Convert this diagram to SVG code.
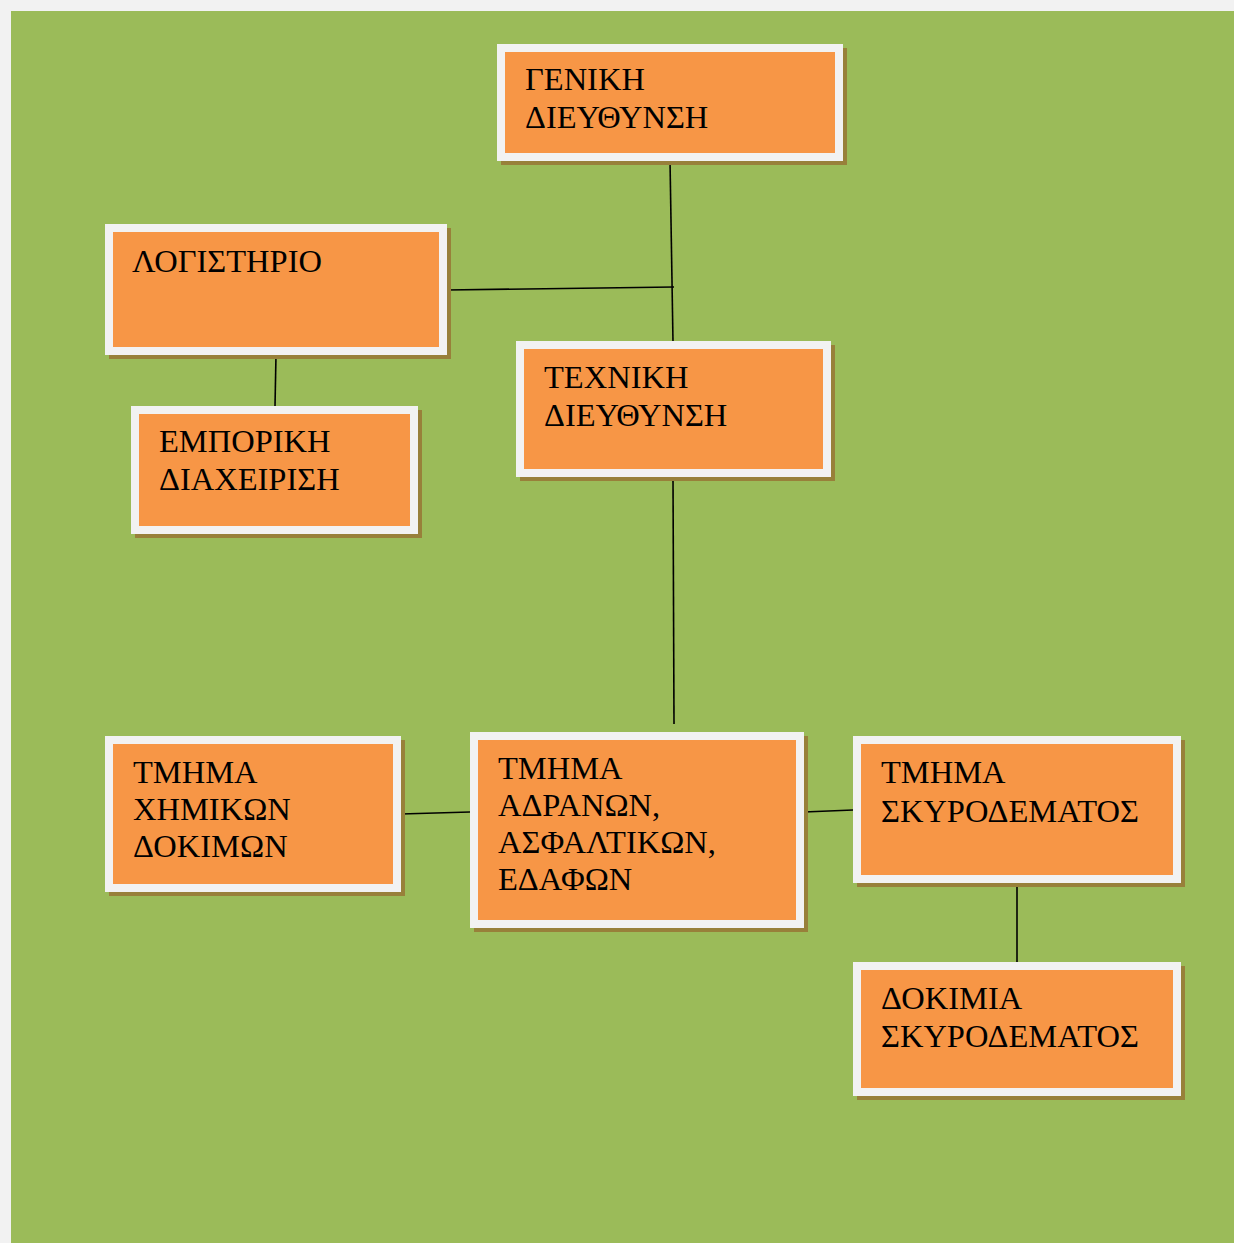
<svg xmlns="http://www.w3.org/2000/svg" width="1234" height="1243" viewBox="0 0 1234 1243">
  <style>
    .shadow { fill: #98803a; stroke: #98803a; stroke-width: 8; }
    .box { fill: #f79646; stroke: #f2f2f2; stroke-width: 8; }
    .lbl { font-family: "Liberation Serif", "Times New Roman", serif; font-size: 32.5px; fill: #000; }
    .conn { stroke: #000; stroke-width: 1.6; fill: none; }
  </style>
  <rect x="0" y="0" width="1234" height="1243" fill="#f2f2f2"/>
  <rect x="11" y="11" width="1223" height="1232" fill="#9bbb59"/>

  <g id="connectors">
    <line class="conn" x1="670" y1="160" x2="673" y2="342"/>
    <line class="conn" x1="447" y1="290" x2="674" y2="287"/>
    <line class="conn" x1="276" y1="355" x2="275" y2="406"/>
    <line class="conn" x1="673" y1="477" x2="674" y2="724"/>
    <line class="conn" x1="401" y1="814" x2="470" y2="812"/>
    <line class="conn" x1="804" y1="812" x2="853" y2="810"/>
    <line class="conn" x1="1017" y1="883" x2="1017" y2="962"/>
  </g>

  <g id="geniki">
    <rect class="shadow" x="505" y="52" width="338" height="109"/>
    <rect class="box" x="501" y="48" width="338" height="109"/>
    <text class="lbl" x="525" y="90">ΓΕΝΙΚΗ</text>
    <text class="lbl" x="525" y="128">ΔΙΕΥΘΥΝΣΗ</text>
  </g>

  <g id="logistirio">
    <rect class="shadow" x="113" y="232" width="334" height="123"/>
    <rect class="box" x="109" y="228" width="334" height="123"/>
    <text class="lbl" x="132" y="272">ΛΟΓΙΣΤΗΡΙΟ</text>
  </g>

  <g id="emporiki">
    <rect class="shadow" x="139" y="414" width="279" height="120"/>
    <rect class="box" x="135" y="410" width="279" height="120"/>
    <text class="lbl" x="159" y="452">ΕΜΠΟΡΙΚΗ</text>
    <text class="lbl" x="159" y="490">ΔΙΑΧΕΙΡΙΣΗ</text>
  </g>

  <g id="techniki">
    <rect class="shadow" x="524" y="349" width="307" height="128"/>
    <rect class="box" x="520" y="345" width="307" height="128"/>
    <text class="lbl" x="544" y="388">ΤΕΧΝΙΚΗ</text>
    <text class="lbl" x="544" y="426">ΔΙΕΥΘΥΝΣΗ</text>
  </g>

  <g id="chimikon">
    <rect class="shadow" x="113" y="744" width="288" height="148"/>
    <rect class="box" x="109" y="740" width="288" height="148"/>
    <text class="lbl" x="133" y="783">ΤΜΗΜΑ</text>
    <text class="lbl" x="133" y="820">ΧΗΜΙΚΩΝ</text>
    <text class="lbl" x="133" y="857">ΔΟΚΙΜΩΝ</text>
  </g>

  <g id="adranon">
    <rect class="shadow" x="478" y="740" width="326" height="188"/>
    <rect class="box" x="474" y="736" width="326" height="188"/>
    <text class="lbl" x="498" y="779">ΤΜΗΜΑ</text>
    <text class="lbl" x="498" y="816">ΑΔΡΑΝΩΝ,</text>
    <text class="lbl" x="498" y="853">ΑΣΦΑΛΤΙΚΩΝ,</text>
    <text class="lbl" x="498" y="890">ΕΔΑΦΩΝ</text>
  </g>

  <g id="skyrodematos">
    <rect class="shadow" x="861" y="744" width="320" height="139"/>
    <rect class="box" x="857" y="740" width="320" height="139"/>
    <text class="lbl" x="881" y="783">ΤΜΗΜΑ</text>
    <text class="lbl" x="881" y="822">ΣΚΥΡΟΔΕΜΑΤΟΣ</text>
  </g>

  <g id="dokimia">
    <rect class="shadow" x="861" y="970" width="320" height="126"/>
    <rect class="box" x="857" y="966" width="320" height="126"/>
    <text class="lbl" x="881" y="1009">ΔΟΚΙΜΙΑ</text>
    <text class="lbl" x="881" y="1047">ΣΚΥΡΟΔΕΜΑΤΟΣ</text>
  </g>
</svg>
